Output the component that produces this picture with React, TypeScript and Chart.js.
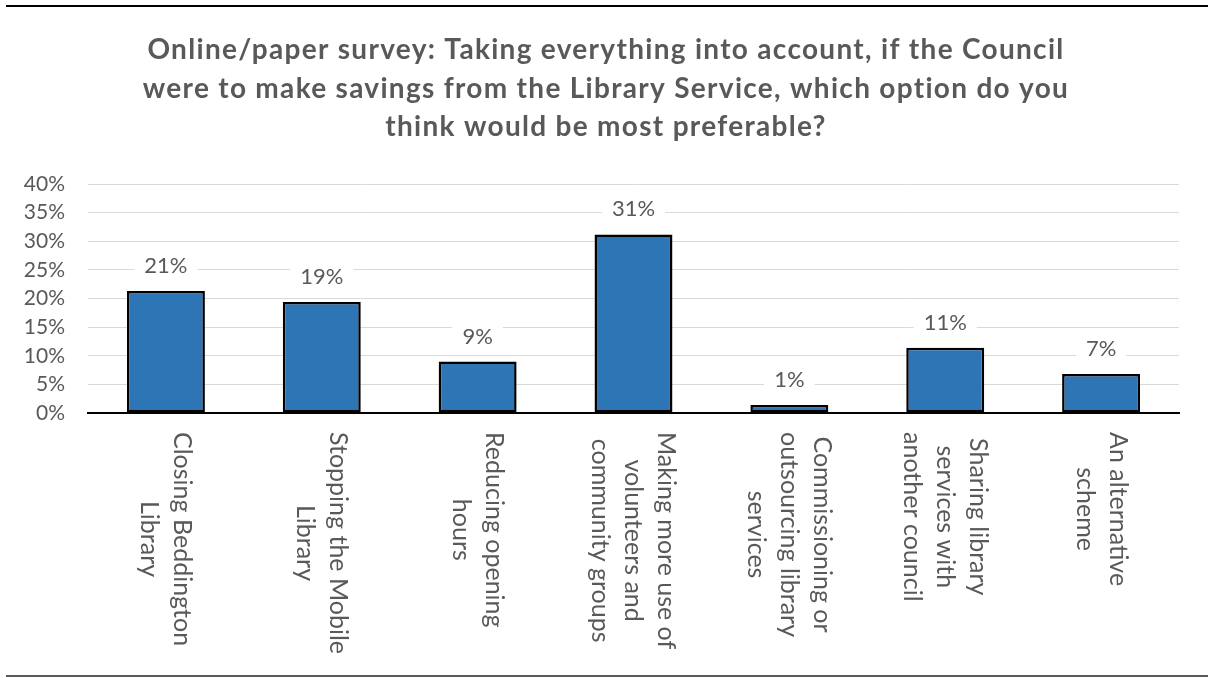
import React, { useEffect, useRef } from "react";
import { Chart, registerables } from "chart.js";

Chart.register(...registerables);

const titleLines: string[] = [
  "Online/paper survey: Taking everything into account, if the Council",
  "were to make savings from the Library Service, which option do you",
  "think would be most preferable?",
];

const categories: string[][] = [
  ["Closing Beddington", "Library"],
  ["Stopping the Mobile", "Library"],
  ["Reducing opening", "hours"],
  ["Making more use of", "volunteers and", "community groups"],
  ["Commissioning or", "outsourcing library", "services"],
  ["Sharing library", "services with", "another council"],
  ["An alternative", "scheme"],
];

const values: number[] = [21.3, 19.4, 9.0, 31.2, 1.4, 11.4, 6.8];
const valueLabels: string[] = ["21%", "19%", "9%", "31%", "1%", "11%", "7%"];

const yMin = 0;
const yMax = 40;
const yStep = 5;

const FONT = "Lato";
const TEXT_GRAY = "#595959";

const titlePlugin = {
  id: "spacedTitle",
  afterDraw(chart: any) {
    const ctx = chart.ctx;
    ctx.save();
    ctx.font = `bold 28px ${FONT}`;
    (ctx as any).letterSpacing = "1.3px";
    ctx.fillStyle = TEXT_GRAY;
    ctx.textAlign = "center";
    ctx.textBaseline = "middle";
    const cx = chart.width / 2 + 2;
    titleLines.forEach((line, i) => {
      ctx.fillText(line, cx, 50 + i * 38.5);
    });
    ctx.restore();
  },
};

const xLabelsPlugin = {
  id: "rotatedXLabels",
  afterDraw(chart: any) {
    const ctx = chart.ctx;
    const xs = chart.scales.x;
    const top = chart.chartArea.bottom + 19;
    const lineH = 33;
    ctx.save();
    ctx.font = `25px ${FONT}`;
    ctx.fillStyle = TEXT_GRAY;
    ctx.textAlign = "center";
    ctx.textBaseline = "middle";
    categories.forEach((lines, i) => {
      const x = xs.getPixelForValue(i);
      const maxW = Math.max(...lines.map((l) => ctx.measureText(l).width));
      ctx.save();
      ctx.translate(x, top + maxW / 2);
      ctx.rotate(Math.PI / 2);
      const n = lines.length;
      lines.forEach((line, j) => {
        const off = (j - (n - 1) / 2) * lineH;
        ctx.fillText(line, 0, off);
      });
      ctx.restore();
    });
    ctx.restore();
  },
};

const dataLabelPlugin = {
  id: "barValueLabels",
  afterDatasetsDraw(chart: any) {
    const ctx = chart.ctx;
    const meta = chart.getDatasetMeta(0);
    ctx.save();
    ctx.font = `22px ${FONT}`;
    ctx.textAlign = "center";
    ctx.textBaseline = "middle";
    meta.data.forEach((el: any, i: number) => {
      const text = valueLabels[i];
      const w = ctx.measureText(text).width;
      const cy = el.y - 25;
      ctx.fillStyle = "#ffffff";
      ctx.fillRect(el.x - w / 2 - 10, cy - 12, w + 20, 24);
      ctx.fillStyle = TEXT_GRAY;
      ctx.fillText(text, el.x, cy);
    });
    ctx.restore();
  },
};

function BarChart() {
  const ref = useRef<HTMLCanvasElement | null>(null);

  useEffect(() => {
    document.body.style.margin = "0";
    if (!ref.current) return;
    const chart = new Chart(ref.current, {
      type: "bar",
      data: {
        labels: categories.map((c) => c.join(" ")),
        datasets: [
          {
            data: values,
            backgroundColor: "#2E75B6",
            borderColor: "#000000",
            borderWidth: 2.5,
            borderSkipped: false,
            categoryPercentage: 0.5,
            barPercentage: 1.0,
          },
        ],
      },
      options: {
        animation: false,
        responsive: true,
        maintainAspectRatio: false,
        layout: { padding: { left: 0, right: 29, top: 184, bottom: 0 } },
        plugins: {
          legend: { display: false },
          tooltip: { enabled: false },
          title: { display: false },
        },
        scales: {
          x: {
            grid: { display: false },
            border: { display: true, color: "#000000", width: 2 },
            ticks: { display: false },
            afterFit(scale: any) {
              scale.height = 265;
            },
          },
          y: {
            min: yMin,
            max: yMax,
            ticks: {
              stepSize: yStep,
              color: TEXT_GRAY,
              font: { family: FONT, size: 21 },
              padding: 23,
              callback: (v: any) => `${v}%`,
            },
            grid: { color: "#d9d9d9", lineWidth: 1, drawTicks: false },
            border: { display: false },
            afterFit(scale: any) {
              scale.width = 88;
            },
          },
        },
      },
      plugins: [titlePlugin, xLabelsPlugin, dataLabelPlugin],
    });
    return () => chart.destroy();
  }, []);

  return (
    <div style={{ position: "relative", width: 1208, height: 678, background: "#fff" }}>
      <div style={{ position: "absolute", left: 6, right: 0, top: 5, height: 0, borderTop: "2.5px solid #000" }} />
      <div style={{ position: "absolute", left: 6, right: 0, top: 675, height: 0, borderTop: "2px solid #595959" }} />
      <canvas ref={ref} />
    </div>
  );
}

export default function App() {
  return <BarChart />;
}
